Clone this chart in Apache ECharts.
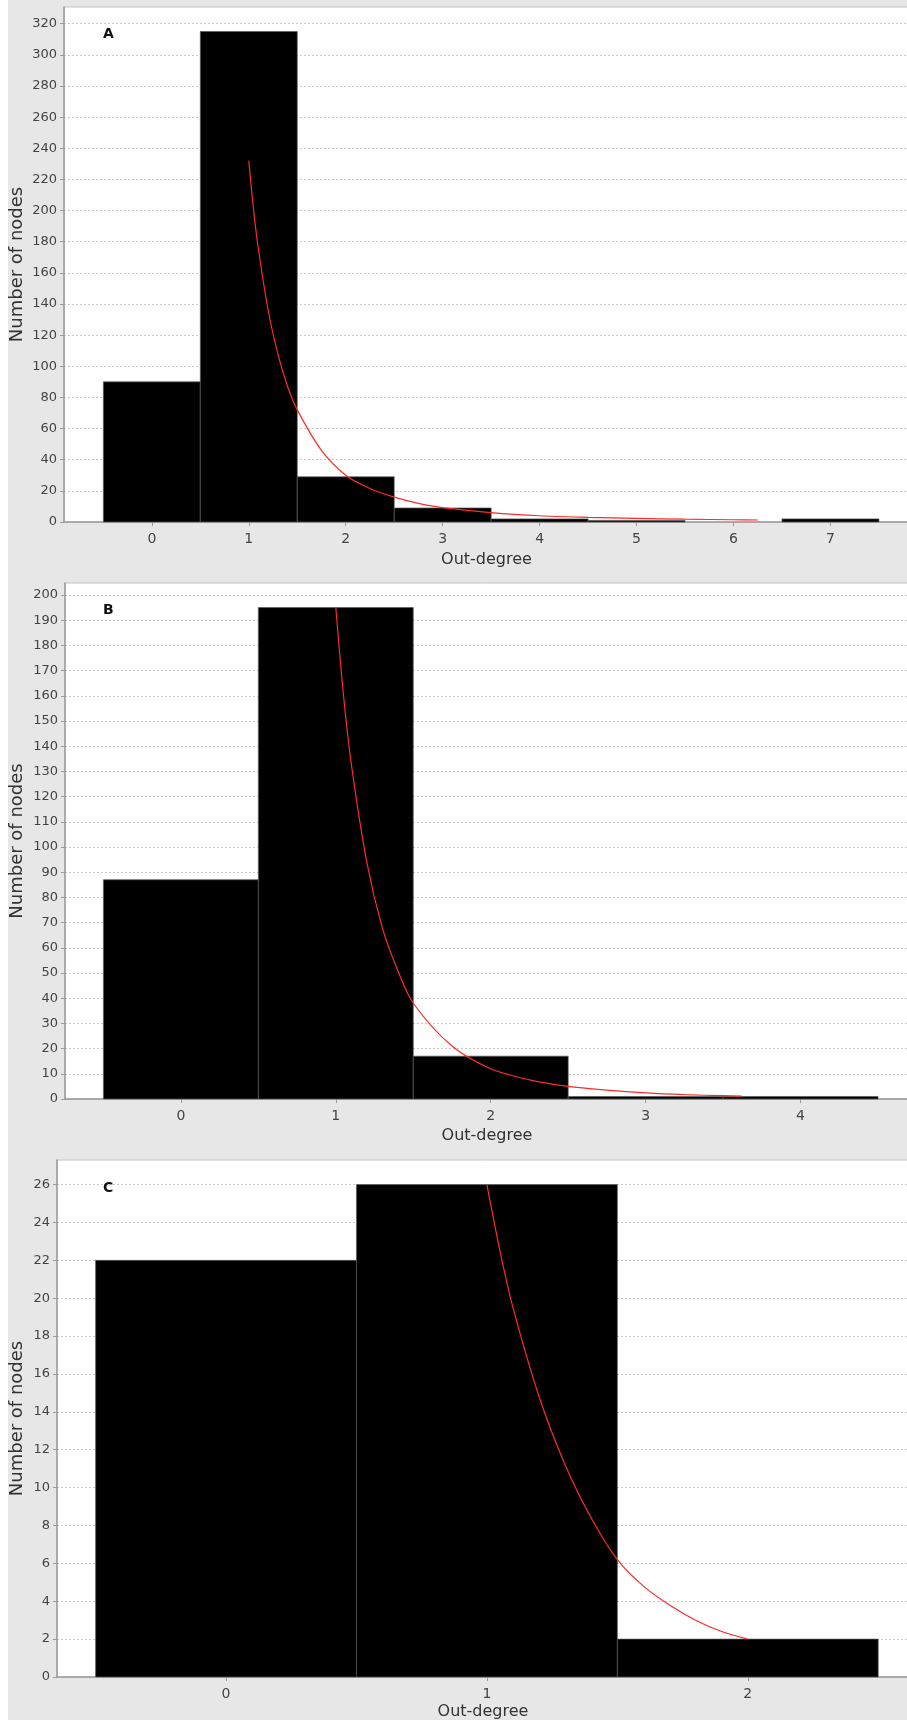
<!DOCTYPE html>
<html>
<head>
<meta charset="utf-8">
<script src="https://cdn.jsdelivr.net/npm/echarts@6/dist/echarts.min.js"></script>
<style>
  html, body { margin: 0; padding: 0; background: #ffffff; }
  #chart { position: absolute; left: 8px; top: 0; width: 899px; height: 1720px; }
</style>
</head>
<body>
<div id="chart"></div>
<script>
// ---------- data ----------
const panelLabels = ['A', 'B', 'C'];
const xAxisTitle = 'Out-degree';
const yAxisTitle = 'Number of nodes';

const aDegrees = [0, 1, 2, 3, 4, 5, 6, 7];
const aCounts  = [90, 315, 29, 9, 2, 1, 0, 2];
const aFitX = [1, 1.05, 1.1, 1.2, 1.3, 1.4, 1.5, 1.75, 2, 2.25, 2.5, 2.75, 3, 3.5, 4, 4.5, 5, 5.5, 6, 6.25];
const aFitY = [232, 200, 175, 136, 108, 87, 72, 46, 30, 21.5, 16, 12, 9.2, 6, 4, 3, 2.3, 1.8, 1.45, 1.3];

const bDegrees = [0, 1, 2, 3, 4];
const bCounts  = [87, 195, 17, 1, 1];
const bFitX = [1, 1.05, 1.1, 1.2, 1.3, 1.4, 1.5, 1.75, 2, 2.25, 2.5, 2.75, 3, 3.25, 3.5, 3.62];
const bFitY = [195, 160, 133, 94, 68, 51, 38, 21, 12, 7.6, 5, 3.5, 2.4, 1.7, 1.3, 1.15];

const cDegrees = [0, 1, 2];
const cCounts  = [22, 26, 2];
const cFitX = [1, 1.05, 1.1, 1.2, 1.3, 1.4, 1.5, 1.6, 1.7, 1.8, 1.9, 2];
const cFitY = [26, 22.5, 19.5, 14.8, 11.2, 8.4, 6.2, 4.8, 3.8, 3.0, 2.4, 2.0];

// ---------- helpers ----------
const FONT = "'DejaVu Sans', 'Liberation Sans', sans-serif";
const LABEL_COLOR = '#444';
const AXIS_COLOR = '#9a9a9a';

function pairs(xs, ys) { return xs.map((x, i) => [x, ys[i]]); }

function histItem(params, api) {
  const x = api.value(0), y = api.value(1);
  if (!y) return null;
  const p0 = api.coord([x - 0.5, y]);
  const p1 = api.coord([x + 0.5, 0]);
  return {
    type: 'rect',
    shape: { x: p0[0], y: p0[1], width: p1[0] - p0[0], height: p1[1] - p0[1] },
    style: { fill: '#000000', stroke: '#5a5a5a', lineWidth: 0.7 }
  };
}

// grid boxes are in chart-div coordinates (div starts 8px from the page edge)
const grids = [
  { left: 56, top: 7,    right: -2, height: 515 },
  { left: 57, top: 583,  right: -2, height: 516 },
  { left: 49, top: 1160, right: -2, height: 517 }
];
const yNameGaps = [38, 39, 31];
const xNameGaps = [30, 29, 27];
const xRanges = [[-0.906, 7.81], [-0.748, 4.70], [-0.648, 2.618]];
const yIntervals = [20, 10, 2];
const degreeSets = [aDegrees, bDegrees, cDegrees];
const countSets = [aCounts, bCounts, cCounts];
const fitSets = [pairs(aFitX, aFitY), pairs(bFitX, bFitY), pairs(cFitX, cFitY)];

function yTicks(maxVal, step) {
  const out = [];
  for (let v = 0; v <= maxVal + 1e-9; v += step) out.push(v);
  return out;
}

const option = {
  backgroundColor: '#e7e7e7',
  animation: false,
  title: panelLabels.map((t, i) => ({
    text: t,
    left: 95,
    top: [27, 603, 1181][i],
    padding: 0,
    textStyle: { fontFamily: FONT, fontSize: 14, fontWeight: 'bold', color: '#111' }
  })),
  grid: grids.map(g => Object.assign({
    show: true, backgroundColor: '#ffffff', borderColor: '#c4c4c4', borderWidth: 1,
    containLabel: false, outerBoundsMode: 'none'
  }, g)),
  xAxis: grids.map((g, i) => ({
    type: 'value',
    gridIndex: i,
    min: xRanges[i][0],
    max: xRanges[i][1],
    name: xAxisTitle,
    nameLocation: 'middle',
    nameGap: xNameGaps[i],
    nameMoveOverlap: false,
    nameTextStyle: { fontFamily: FONT, fontSize: 16, color: '#333' },
    axisLine: { show: true, onZero: false, lineStyle: { color: AXIS_COLOR, width: 1.5 } },
    axisTick: { show: true, length: 4, inside: false, customValues: degreeSets[i], lineStyle: { color: AXIS_COLOR } },
    axisLabel: { customValues: degreeSets[i], margin: 10, fontFamily: FONT, fontSize: 14, color: LABEL_COLOR },
    splitLine: { show: false }
  })),
  yAxis: grids.map((g, i) => {
    const maxVal = Math.max(...countSets[i]) * 1.05;
    const ticks = yTicks(maxVal, yIntervals[i]);
    return {
      type: 'value',
      gridIndex: i,
      min: 0,
      max: maxVal,
      interval: yIntervals[i],
      name: yAxisTitle,
      nameLocation: 'middle',
      nameRotate: 90,
      nameGap: yNameGaps[i],
      nameMoveOverlap: false,
      nameTextStyle: { fontFamily: FONT, fontSize: 18, color: '#333' },
      axisLine: { show: true, onZero: false, lineStyle: { color: AXIS_COLOR, width: 1.5 } },
      axisTick: { show: true, length: 4, customValues: ticks, lineStyle: { color: AXIS_COLOR } },
      axisLabel: { customValues: ticks, margin: 7, fontFamily: FONT, fontSize: 13, color: LABEL_COLOR },
      splitLine: { show: true, lineStyle: { color: '#c8c8c8', type: [2, 2], width: 1 } }
    };
  }),
  series: []
};

for (let i = 0; i < 3; i++) {
  option.series.push({
    type: 'custom',
    xAxisIndex: i,
    yAxisIndex: i,
    renderItem: histItem,
    encode: { x: 0, y: 1 },
    data: pairs(degreeSets[i], countSets[i]),
    z: 2
  });
  option.series.push({
    type: 'line',
    xAxisIndex: i,
    yAxisIndex: i,
    data: fitSets[i],
    smooth: 0.3,
    showSymbol: false,
    lineStyle: { color: '#ff2a2a', width: 1.2 },
    z: 5
  });
}

const chart = echarts.init(document.getElementById('chart'), null, { renderer: 'canvas' });
chart.setOption(option);
</script>
</body>
</html>
